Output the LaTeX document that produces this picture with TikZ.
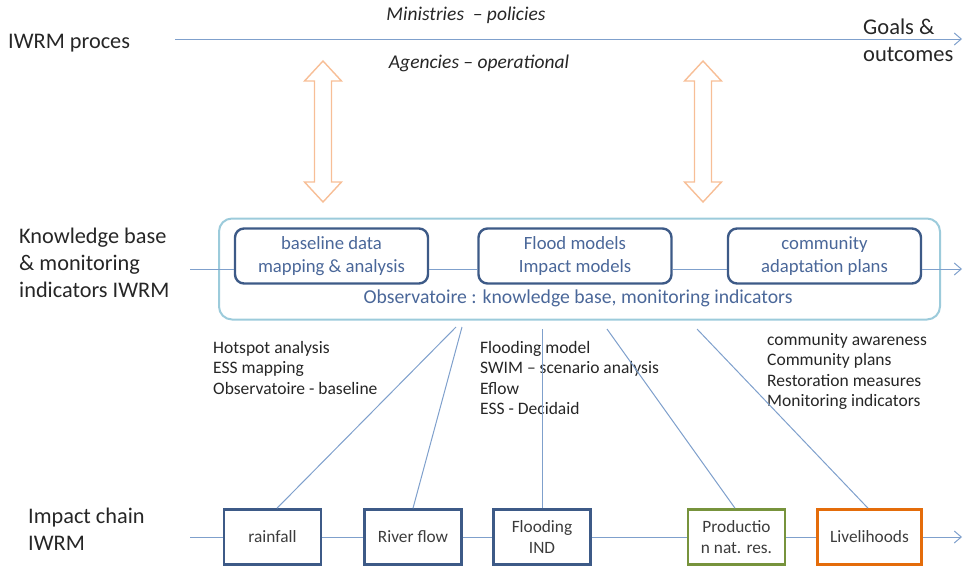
\documentclass[tikz,border=0pt]{standalone}
\usepackage{fontspec}
\setmainfont{Carlito}
\usetikzlibrary{arrows.meta}
\definecolor{txt}{HTML}{262626}
\definecolor{boxblue}{HTML}{3D5A87}
\definecolor{boxtxt}{HTML}{4A6799}
\definecolor{lnblue}{HTML}{7FA0CC}
\definecolor{outerblue}{HTML}{9CCBDB}
\definecolor{orng}{HTML}{F7BE96}
\definecolor{grn}{HTML}{77933C}
\definecolor{org}{HTML}{E46C0A}
\tikzset{
  lbl/.style={font=\fontsize{22.3}{27}\selectfont, text=txt, align=left, inner sep=0pt},
  note/.style={font=\fontsize{17.5}{20.5}\selectfont, text=txt, align=left, inner sep=0pt},
  ital/.style={font=\fontsize{19.5}{22}\selectfont\itshape, text=txt, inner sep=0pt},
  inbox/.style={draw=boxblue, line width=2.4pt, rounded corners=9pt, minimum width=193pt, minimum height=55pt,
     font=\fontsize{18.7}{23}\selectfont, text=boxtxt, align=center, inner sep=0pt},
  chain/.style={draw=boxblue, line width=2.6pt, minimum width=97pt, minimum height=55pt,
     font=\fontsize{17.3}{21}\selectfont, text=txt!90, align=center, inner sep=0pt},
  conn/.style={draw=lnblue, line width=1pt},
  arr/.style={conn, -{Straight Barb[length=7pt,width=12pt]}},
  dblarrow/.style={draw=orng, line width=1.4pt, line join=miter}
}
\begin{document}
\begin{tikzpicture}[x=1pt,y=-1pt]
\useasboundingbox (0,0) rectangle (966,570);
% top row
\node[lbl, anchor=west] (iwrm) at (8,43) {IWRM proces};
\coordinate (topS) at (175,39);
\coordinate (topE) at (962,39);
\draw[arr] (topS) -- (topE);
\node[ital] (mini) at (466,15) {Ministries \ – policies};
\node[ital] (agen) at (479,63) {Agencies – operational};
\node[lbl, anchor=north west, font=\fontsize{22.5}{27}\selectfont] (goals) at (863,19) {Goals \&\\outcomes};
% orange double arrows
\foreach \cx in {323,703}{
  \draw[dblarrow] (\cx,61) -- (\cx+18.5,81) -- (\cx+8.5,81) -- (\cx+8.5,182) -- (\cx+18.5,182)
     -- (\cx,202) -- (\cx-18.5,182) -- (\cx-8.5,182) -- (\cx-8.5,81) -- (\cx-18.5,81) -- cycle;
}
% middle row
\node[draw=outerblue, line width=2pt, rounded corners=13pt, minimum width=721pt, minimum height=101pt, inner sep=0pt] (outer) at (579.5,269) {};
\node[lbl, anchor=north west] (kb) at (19,228) {Knowledge base\\\& monitoring\\indicators IWRM};
\node[inbox] (base) at (331.5,256) {baseline data\\mapping \& analysis};
\node[inbox] (flood) at (575,256) {Flood models\\Impact models};
\node[inbox] (comm) at (824.5,256) {community\\adaptation plans};
\node[font=\fontsize{19.7}{22}\selectfont, text=boxtxt, inner sep=0pt] (obs) at (578,298) {Observatoire : knowledge base, monitoring indicators};
\coordinate (kbS) at (190,269);
\coordinate (kbE) at (962,269);
\draw[conn] (kbS) -- (base.west |- kbS);
\draw[conn] (base.east |- kbS) -- (flood.west |- kbS);
\draw[conn] (flood.east |- kbS) -- (comm.west |- kbS);
\draw[arr] (comm.east |- kbS) -- (kbE);
% notes
\node[note, anchor=north west] (n1) at (213,341) {Hotspot analysis\\ESS mapping\\Observatoire - baseline};
\node[note, anchor=north west] (n2) at (480,341) {Flooding model\\SWIM – scenario analysis\\Eflow\\ESS - Decidaid};
\node[note, anchor=north west] (n3) at (767,333) {community awareness\\Community plans\\Restoration measures\\Monitoring indicators};
% bottom row
\node[lbl, anchor=north west] (ic) at (28,508) {Impact chain\\IWRM};
\node[chain] (rain) at (272.5,537) {rainfall};
\node[chain] (river) at (413,537) {River flow};
\node[chain] (flooding) at (542,537) {Flooding\\IND};
\node[chain, draw=grn] (prod) at (736.5,537) {Productio\\n nat. res.};
\node[chain, draw=org, minimum width=104pt] (live) at (869.5,537) {Livelihoods};
\coordinate (icS) at (190,537);
\coordinate (icE) at (962,537);
\draw[conn] (icS) -- (rain.west |- icS);
\draw[conn] (rain) -- (river);
\draw[conn] (river) -- (flooding);
\draw[conn] (flooding) -- (prod);
\draw[conn] (prod) -- (live);
\draw[arr] (live.east |- icE) -- (icE);
% links
\coordinate (l1) at (456,327);
\coordinate (l2) at (462,327);
\coordinate (l3) at (542,329);
\coordinate (l4) at (607,329);
\coordinate (l5) at (697,329);
\draw[conn] (l1) -- (rain.north -| 277,0);
\draw[conn] (l2) -- (river.north -| 413,0);
\draw[conn] (l3) -- (flooding.north);
\draw[conn] (l4) -- (prod.north -| 735,0);
\draw[conn] (l5) -- (live.north -| 868,0);
\end{tikzpicture}
\end{document}
